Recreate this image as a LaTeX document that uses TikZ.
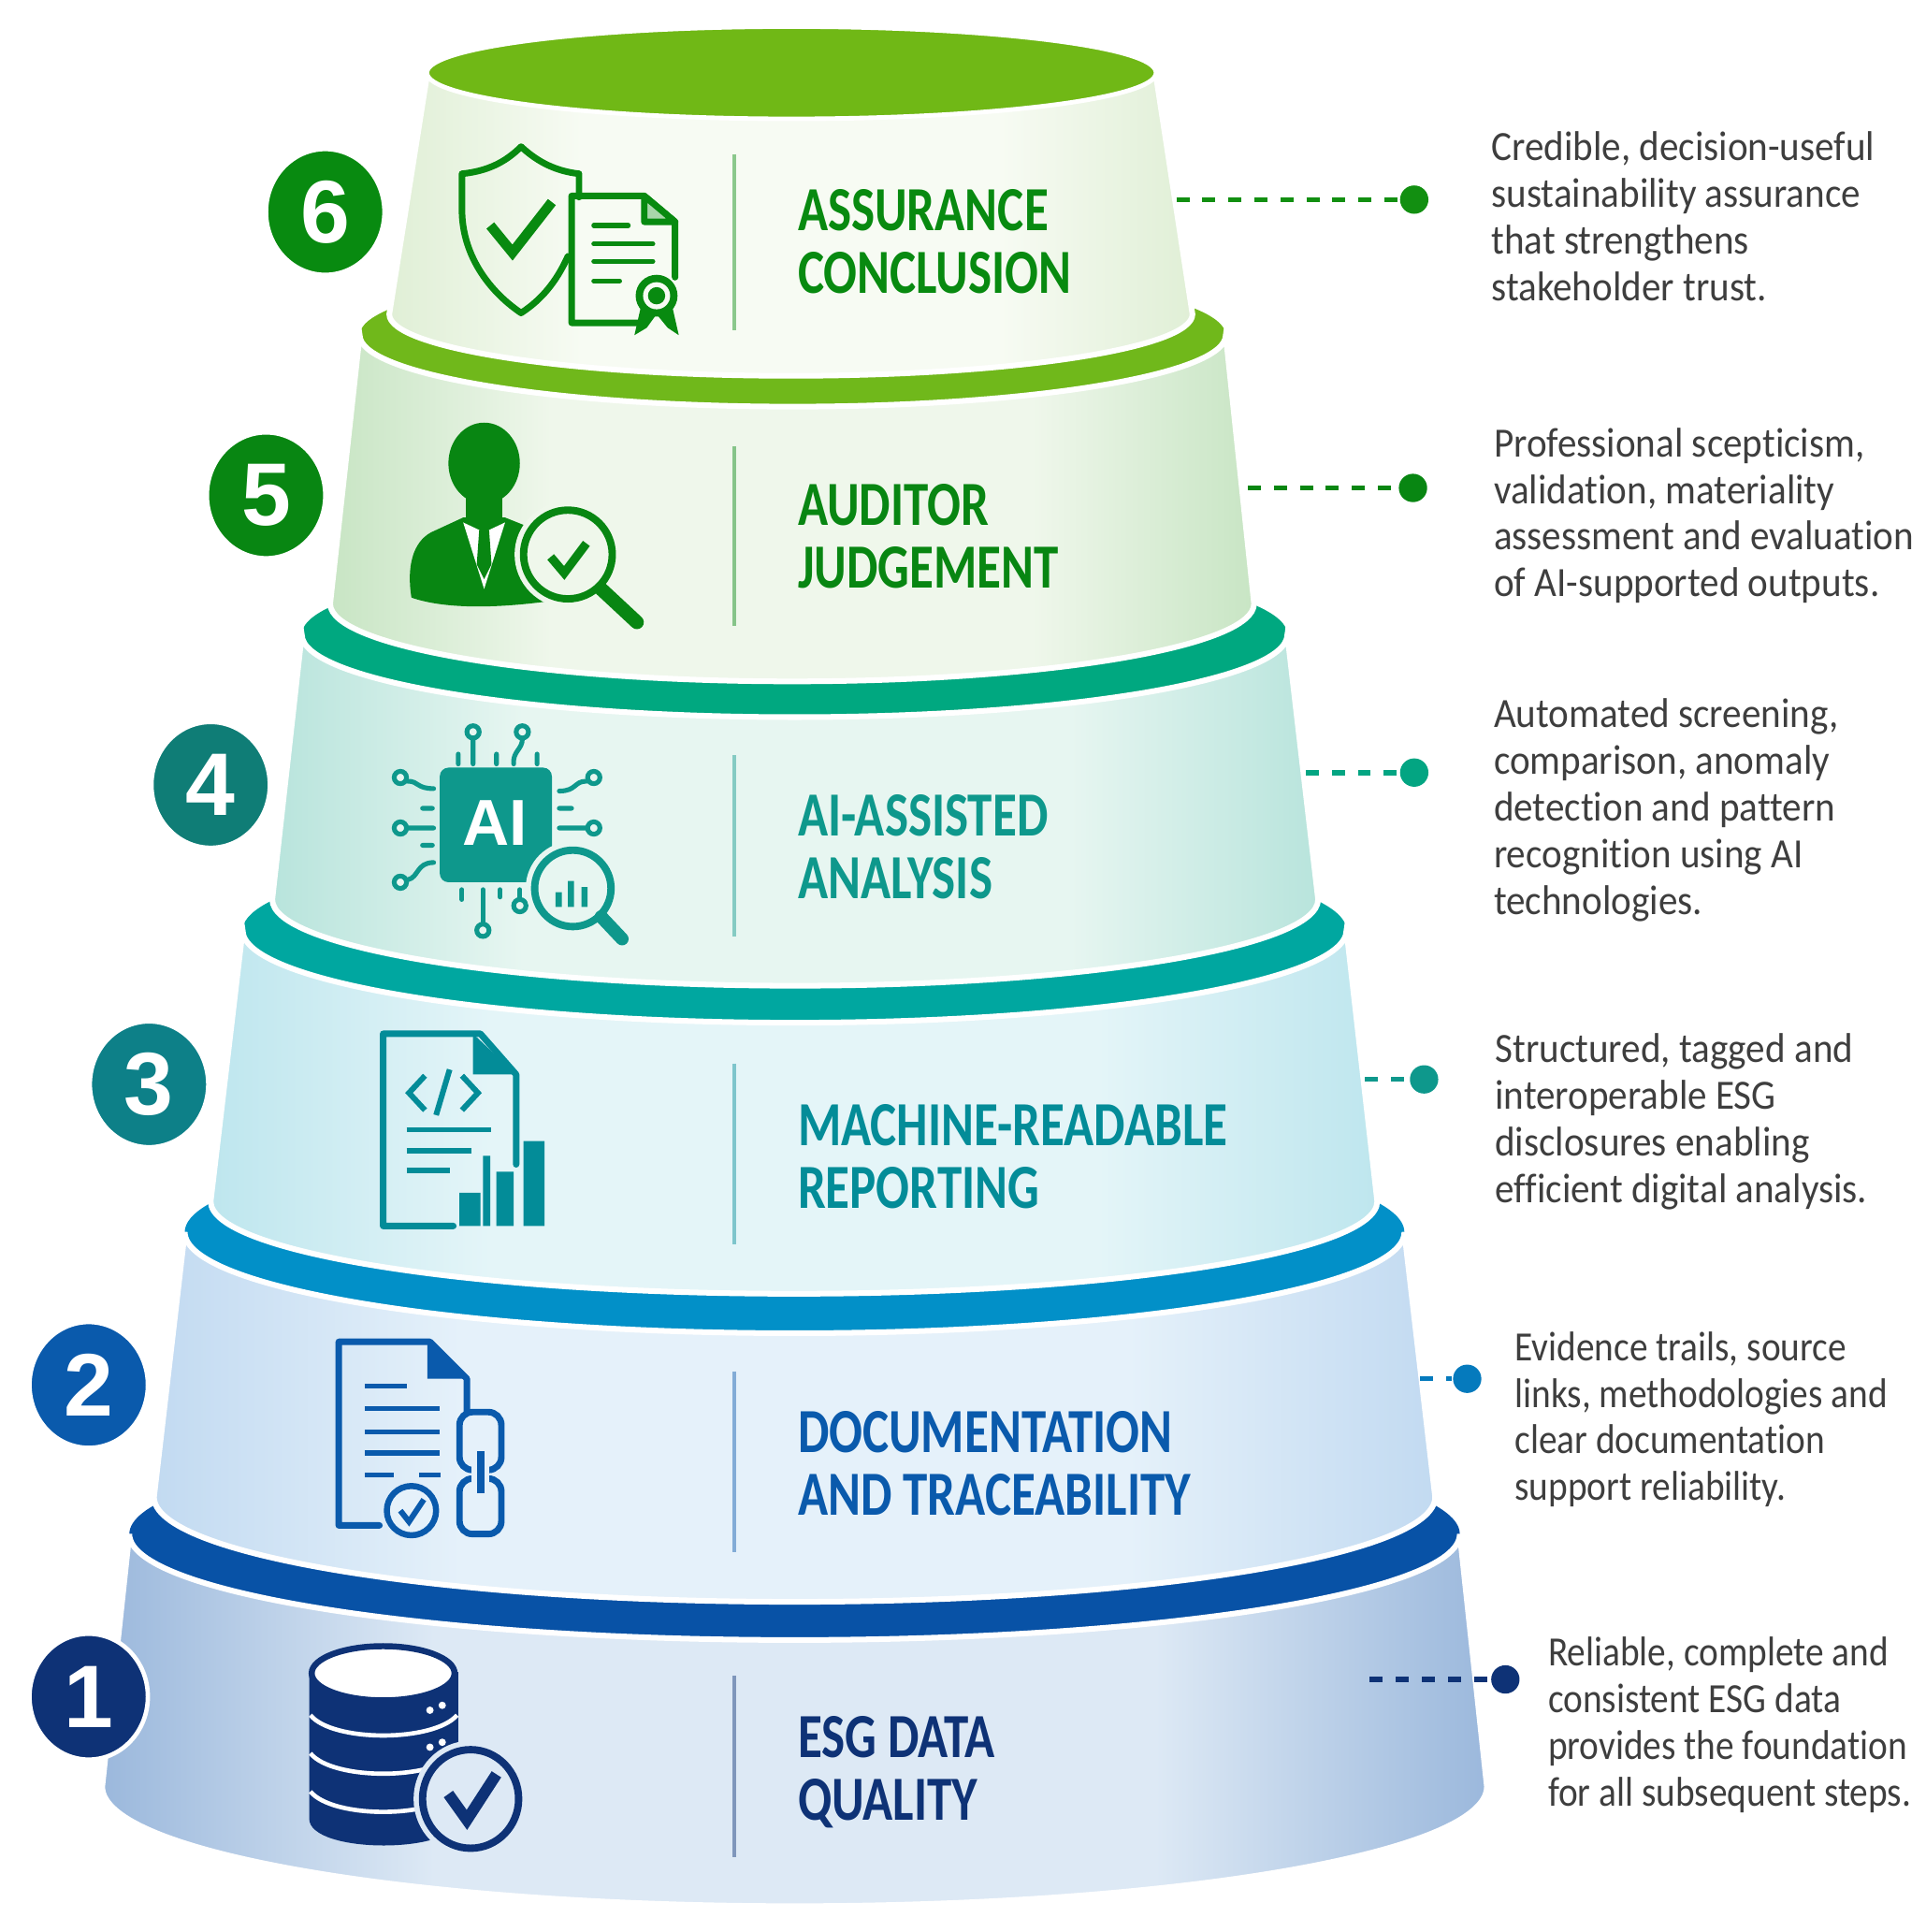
\documentclass[tikz,border=0pt]{standalone}
\usepackage{fontspec}
\usepackage{tikz}
\usetikzlibrary{shapes.geometric}
\setmainfont[FakeStretch=0.925,Ligatures=NoCommon]{Carlito}
\newfontfamily\notetight[FakeStretch=0.885,Ligatures=NoCommon]{Carlito}
\newfontfamily\titlefont[FakeStretch=0.79,Ligatures=NoCommon]{Carlito}
\newfontfamily\digitfont{Liberation Sans}
\definecolor{ringsix}{RGB}{112,184,22}
\definecolor{ringfive}{RGB}{112,184,27}
\definecolor{ringfour}{RGB}{0,168,128}
\definecolor{ringthree}{RGB}{0,167,160}
\definecolor{ringtwo}{RGB}{2,144,200}
\definecolor{ringone}{RGB}{8,82,166}
\definecolor{inksix}{RGB}{8,138,16}
\definecolor{inkfive}{RGB}{8,134,18}
\definecolor{inkfour}{RGB}{14,152,140}
\definecolor{inkthree}{RGB}{3,140,152}
\definecolor{inktwo}{RGB}{10,90,172}
\definecolor{inkone}{RGB}{14,50,118}
\definecolor{badgefour}{RGB}{15,125,118}
\definecolor{badgethree}{RGB}{13,128,136}
\definecolor{edgesix}{RGB}{224,239,214}
\definecolor{midsix}{RGB}{247,251,243}
\definecolor{edgefive}{RGB}{200,229,196}
\definecolor{midfive}{RGB}{239,247,235}
\definecolor{edgefour}{RGB}{184,228,220}
\definecolor{midfour}{RGB}{231,246,241}
\definecolor{edgethree}{RGB}{190,230,238}
\definecolor{midthree}{RGB}{228,245,248}
\definecolor{edgetwo}{RGB}{194,218,241}
\definecolor{midtwo}{RGB}{229,241,250}
\definecolor{edgeone}{RGB}{155,184,220}
\definecolor{midone}{RGB}{221,233,245}
\definecolor{notetext}{RGB}{62,62,62}
\pgfdeclarehorizontalshading{shadesix}{100bp}{color(0bp)=(edgesix); color(25bp)=(edgesix); color(37bp)=(midsix); color(63bp)=(midsix); color(75bp)=(edgesix); color(100bp)=(edgesix)}
\pgfdeclarehorizontalshading{shadefive}{100bp}{color(0bp)=(edgefive); color(25bp)=(edgefive); color(37bp)=(midfive); color(63bp)=(midfive); color(75bp)=(edgefive); color(100bp)=(edgefive)}
\pgfdeclarehorizontalshading{shadefour}{100bp}{color(0bp)=(edgefour); color(25bp)=(edgefour); color(37bp)=(midfour); color(63bp)=(midfour); color(75bp)=(edgefour); color(100bp)=(edgefour)}
\pgfdeclarehorizontalshading{shadethree}{100bp}{color(0bp)=(edgethree); color(25bp)=(edgethree); color(37bp)=(midthree); color(63bp)=(midthree); color(75bp)=(edgethree); color(100bp)=(edgethree)}
\pgfdeclarehorizontalshading{shadetwo}{100bp}{color(0bp)=(edgetwo); color(25bp)=(edgetwo); color(37bp)=(midtwo); color(63bp)=(midtwo); color(75bp)=(edgetwo); color(100bp)=(edgetwo)}
\pgfdeclarehorizontalshading{shadeone}{100bp}{color(0bp)=(edgeone); color(25bp)=(edgeone); color(37bp)=(midone); color(63bp)=(midone); color(75bp)=(edgeone); color(100bp)=(edgeone)}
\tikzset{
  tierbody/.style={draw=white,line width=1.3pt},
  badge/.style={ellipse,draw=white,line width=1pt,minimum width=.96cm,minimum height=1.02cm,inner sep=0pt,text=white,font=\digitfont\bfseries\fontsize{20.5}{22}\selectfont},
  tiertitle/.style={anchor=west,align=left,inner sep=0pt,font=\titlefont\bfseries\fontsize{14.5}{14.5}\selectfont},
  note/.style={anchor=west,align=left,inner sep=0pt,text=notetext,font=\fontsize{9.6}{10.77}\selectfont},
  tightnote/.style={note,font=\notetight\fontsize{9.6}{10.77}\selectfont},
  enddot/.style={circle,inner sep=0pt,minimum size=.23cm},
  leader/.style={line width=1.2pt,dash pattern=on 3pt off 3pt},
  divider/.style={line width=.8pt,opacity=.45},
  iconline/.style={line width=1.5pt,line cap=round,line join=round},
  iconthin/.style={line width=1.1pt,line cap=round}
}
\begin{document}
\begin{tikzpicture}[x=0.01cm,y=-0.01cm]
\useasboundingbox (0,0) rectangle (1563,1568);
% tiers, bottom one first
\fill[ringone] (645,1245) ellipse [x radius=540,y radius=86];
\shade[tierbody,shading=shadeone] (105,1245) arc[start angle=180,end angle=0,x radius=540,y radius=86] -- (1207,1450) arc[start angle=0,end angle=180,x radius=562,y radius=97] -- cycle;
\fill[ringtwo] (645,1000) ellipse [x radius=495,y radius=82];
\shade[tierbody,shading=shadetwo] (150,1000) arc[start angle=180,end angle=0,x radius=495,y radius=82] -- (1165,1215) arc[start angle=0,end angle=180,x radius=520,y radius=85] -- cycle;
\fill[ringthree] (645,755) ellipse [x radius=448,y radius=75];
\shade[tierbody,shading=shadethree] (197,755) arc[start angle=180,end angle=0,x radius=448,y radius=75] -- (1118,975) arc[start angle=0,end angle=180,x radius=473.5,y radius=75] -- cycle;
\fill[ringfour] (645,515) ellipse [x radius=400,y radius=67];
\shade[tierbody,shading=shadefour] (245,515) arc[start angle=180,end angle=0,x radius=400,y radius=67] -- (1070,730) arc[start angle=0,end angle=180,x radius=424.5,y radius=70] -- cycle;
\fill[ringfive] (643.5,272) ellipse [x radius=351.5,y radius=58];
\shade[tierbody,shading=shadefive] (292,272) arc[start angle=180,end angle=0,x radius=351.5,y radius=58] -- (1018,490) arc[start angle=0,end angle=180,x radius=375,y radius=63] -- cycle;
\shade[tierbody,shading=shadesix] (347,59) arc[start angle=180,end angle=0,x radius=295.5,y radius=37] -- (968,255) arc[start angle=0,end angle=180,x radius=326,y radius=50] -- cycle;
\fill[ringsix,draw=white,line width=.8pt] (642.5,59) ellipse [x radius=295.5,y radius=37];
% dividers
\draw[divider,inksix] (596,125) -- (596,268);
\draw[divider,inkfive] (596,362) -- (596,508);
\draw[divider,inkfour] (596,613) -- (596,760);
\draw[divider,inkthree] (596,863) -- (596,1010);
\draw[divider,inktwo] (596,1113) -- (596,1260);
\draw[divider,inkone] (596,1360) -- (596,1507);
% titles
\node[tiertitle,text=inksix] (title6) at (647,196) {ASSURANCE\\CONCLUSION};
\node[tiertitle,text=inkfive] (title5) at (647,435.5) {AUDITOR\\JUDGEMENT};
\node[tiertitle,text=inkfour] (title4) at (647,687.5) {AI-ASSISTED\\ANALYSIS};
\node[tiertitle,text=inkthree] (title3) at (647,938.5) {MACHINE-READABLE\\REPORTING};
\node[tiertitle,text=inktwo] (title2) at (647,1188) {DOCUMENTATION\\AND TRACEABILITY};
\node[tiertitle,text=inkone] (title1) at (647,1438) {ESG DATA\\QUALITY};
% badges
\node[badge,fill=inksix] (badge6) at (264,172) {6};
\node[badge,fill=inkfive] (badge5) at (216,402) {5};
\node[badge,fill=badgefour] (badge4) at (171,637) {4};
\node[badge,fill=badgethree] (badge3) at (121,880) {3};
\node[badge,fill=inktwo] (badge2) at (72,1124) {2};
\node[badge,fill=inkone] (badge1) at (72,1377) {1};
% notes and leaders
\node[note] (note6) at (1210,175.5) {Credible, decision-useful\\sustainability assurance\\that strengthens\\stakeholder trust.};
\node[note] (note5) at (1212,418.5) {Professional scepticism,\\validation, materiality\\assessment and evaluation\\of AI-supported outputs.};
\node[note] (note4) at (1212,657.5) {Automated screening,\\comparison, anomaly\\detection and pattern\\recognition using AI\\technologies.};
\node[note] (note3) at (1213,910.5) {Structured, tagged and\\interoperable ESG\\disclosures enabling\\efficient digital analysis.};
\node[tightnote] (note2) at (1229,1152) {Evidence trails, source\\links, methodologies and\\clear documentation\\support reliability.};
\node[tightnote] (note1) at (1256,1400) {Reliable, complete and\\consistent ESG data\\provides the foundation\\for all subsequent steps.};
\node[enddot,fill=inksix!90!ringsix] (dot6) at (1148,162) {};
\node[enddot,fill=inkfive] (dot5) at (1147,396) {};
\node[enddot,fill=ringfour!80!inkfour] (dot4) at (1148,627) {};
\node[enddot,fill=inkfour] (dot3) at (1156,876) {};
\node[enddot,fill=ringtwo!60!inktwo] (dot2) at (1191,1119) {};
\node[enddot,fill=inkone] (dot1) at (1222,1363) {};
\coordinate (lead6) at (955,162);
\coordinate (lead5) at (1013,396);
\coordinate (lead4) at (1060,627);
\coordinate (lead3) at (1108,876);
\coordinate (lead2) at (1153,1119);
\coordinate (lead1) at (1112,1363);
\draw[leader,inksix!90!ringsix] (lead6) -- (dot6);
\draw[leader,inkfive] (lead5) -- (dot5);
\draw[leader,ringfour!80!inkfour] (lead4) -- (dot4);
\draw[leader,inkfour] (lead3) -- (dot3);
\draw[leader,ringtwo!60!inktwo] (lead2) -- (dot2);
\draw[leader,inkone] (lead1) -- (dot1);
% icon six: shield and certificate
\draw[iconline,inksix] (470,160) -- (470,141) .. controls (452,139) and (437,132) .. (423,119) .. controls (410,132) and (395,139) .. (375,141) -- (375,170) .. controls (375,205) and (395,235) .. (423,254) .. controls (440,243) and (452,228) .. (461,208);
\draw[inksix,line width=2.3pt] (398,183) -- (416,205) -- (448,164);
\draw[iconline,inksix] (518,262) -- (464,262) -- (464,159) -- (523,159) -- (548,180) -- (548,225);
\draw[iconline,inksix,fill=inksix!35!white] (523,159) -- (523,180) -- (548,180) -- cycle;
\draw[iconthin,inksix] (482,183) -- (510,183) (482,198) -- (530,198) (482,212) -- (530,212) (482,228) -- (503,228);
\fill[inksix] (520,250) -- (515,272) -- (525,266) -- (533,255) -- (542,266) -- (551,272) -- (546,250) -- cycle;
\fill[inksix] (533,240) circle [radius=17];
\fill[midsix] (533,240) circle [radius=11];
\fill[inksix] (533,240) circle [radius=7];
% icon five: auditor with magnifier
\fill[inkfive] (393,376) ellipse [x radius=29,y radius=33];
\fill[inkfive] (378,400) rectangle (408,425);
\fill[inkfive] (334,485) .. controls (330,460) and (335,440) .. (350,432) -- (376,420) -- (410,420) -- (440,432) -- (445,488) .. controls (400,494) and (360,494) .. (334,485) -- cycle;
\fill[white] (376,424) -- (393,478) -- (410,424) -- (393,432) -- cycle;
\fill[inkfive] (389,430) -- (397,430) -- (399,458) -- (393,470) -- (387,458) -- cycle;
\draw[midfive,line width=3pt] (461,450) circle [radius=38];
\draw[inkfive,line width=1.7pt,fill=midfive] (461,450) circle [radius=36];
\draw[inkfive,line width=3.2pt,line cap=round] (488,478) -- (517,505);
\draw[inkfive,line width=2pt] (447,452) -- (458,465) -- (476,441);
% icon four: AI chip
\draw[iconthin,inkfour] (384,600) -- (384,620) (424,600) .. controls (424,608) and (416,610) .. (417,620) (372,612) -- (372,620) (403,612) -- (403,620) (436,612) -- (436,620);
\draw[iconthin,inkfour] (331,672) -- (352,672) (331,634) .. controls (340,634) and (338,640) .. (352,640) (343,656) -- (351,656) (343,686) -- (351,686) (331,714) .. controls (340,712) and (338,700) .. (352,700);
\draw[iconthin,inkfour] (476,672) -- (454,672) (476,634) .. controls (466,634) and (468,642) .. (454,642) (454,656) -- (464,656);
\draw[iconthin,inkfour] (392,750) -- (392,722) (375,722) -- (375,730) (406,722) -- (406,728) (422,722) -- (422,732);
\draw[inkfour,line width=1.1pt,fill=midfour] (384,594) circle [radius=5] (424,594) circle [radius=5] (325,631) circle [radius=5] (325,672) circle [radius=5] (325,716) circle [radius=5] (482,631) circle [radius=5] (482,672) circle [radius=5] (392,755) circle [radius=5] (422,735) circle [radius=5];
\fill[inkfour,rounded corners=2pt] (357,623) rectangle (448,716);
\node[text=white,inner sep=0pt,font=\digitfont\bfseries\fontsize{15}{15}\selectfont] (chiptext) at (402,668) {AI};
\draw[midfour,line width=3pt] (465,721) circle [radius=33];
\draw[inkfour,line width=1.7pt,fill=midfour] (465,721) circle [radius=31];
\draw[inkfour,line width=3pt,line cap=round] (488,744) -- (505,762);
\fill[inkfour] (451,724) rectangle (456,736) (461,715) rectangle (466,736) (472,720) rectangle (477,736);
% icon three: code file with bars
\draw[iconline,inkthree] (368,995) -- (311,995) -- (311,839) -- (390,839) -- (419,872) -- (419,945);
\fill[inkthree] (384,839) -- (419,872) -- (384,872) -- cycle;
\draw[inkthree,line width=1.3pt] (345,873) -- (332,887) -- (345,901) (375,873) -- (388,887) -- (375,901) (365,868) -- (354,905);
\draw[inkthree,line width=1.2pt] (330,917) -- (399,917) (330,934) -- (383,934) (330,950) -- (365,950);
\fill[inkthree] (373,968) rectangle (390,995) (392,938) rectangle (398,995) (403,951) rectangle (417,995) (425,926) rectangle (442,995);
% icon two: document, seal and chain
\draw[iconline,inktwo] (308,1238) -- (275,1238) -- (275,1089) -- (349,1089) -- (379,1119) -- (379,1146);
\fill[inktwo] (347,1089) -- (379,1119) -- (347,1119) -- cycle;
\draw[inktwo,line width=1.2pt] (296,1125) -- (330,1125) (296,1143) -- (357,1143) (296,1162) -- (357,1162) (296,1179) -- (357,1179) (296,1197) -- (320,1197) (340,1197) -- (358,1197);
\draw[inktwo,line width=1.4pt,fill=midtwo] (334,1226) circle [radius=20];
\draw[inktwo,line width=1.3pt] (325,1226) -- (332,1235) -- (344,1217);
\draw[inktwo,line width=1.5pt,rounded corners=3pt,fill=midtwo] (373,1146) rectangle (407,1193) (373,1200) rectangle (407,1245);
\draw[midtwo,line width=4pt] (390,1182) -- (390,1210);
\draw[inktwo,line width=1.7pt] (390,1178) -- (390,1212);
% icon one: database with check
\fill[inkone] (251,1357) -- (251,1476) .. controls (251,1505) and (372,1505) .. (372,1476) -- (372,1357) -- cycle;
\draw[inkone,line width=1.4pt,fill=white] (311,1358) ellipse [x radius=58,y radius=22];
\draw[white,line width=1pt] (252,1392) .. controls (270,1414) and (352,1414) .. (371,1392) (252,1423) .. controls (270,1445) and (352,1445) .. (371,1423) (252,1454) .. controls (270,1476) and (352,1476) .. (371,1454);
\fill[white] (349,1388) circle [radius=3] (359,1384) circle [radius=3] (349,1418) circle [radius=3] (359,1414) circle [radius=3];
\draw[midone,line width=3pt] (382,1460) ellipse [x radius=41,y radius=42];
\draw[inkone,line width=1.7pt,fill=midone] (382,1460) ellipse [x radius=39,y radius=40];
\draw[inkone,line width=2.6pt] (364,1456) -- (379,1477) -- (403,1440);
\end{tikzpicture}
\end{document}
